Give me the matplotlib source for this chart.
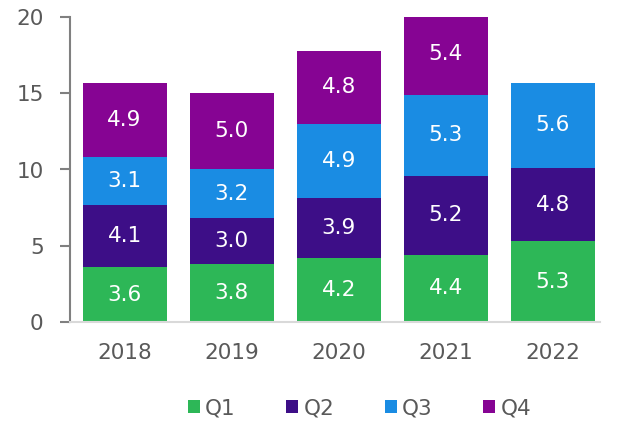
import matplotlib
matplotlib.use("Agg")
import matplotlib.pyplot as plt
import numpy as np

years = ["2018", "2019", "2020", "2021", "2022"]
series = ["Q1", "Q2", "Q3", "Q4"]
q1 = [3.6, 3.8, 4.2, 4.4, 5.3]
q2 = [4.1, 3.0, 3.9, 5.2, 4.8]
q3 = [3.1, 3.2, 4.9, 5.3, 5.6]
q4 = [4.9, 5.0, 4.8, 5.4, np.nan]
colors = ["#2DB757", "#3D0E87", "#1A8CE3", "#860493"]

plt.rcParams['font.family'] = ['DejaVu Sans']
fig = plt.figure(figsize=(6.18, 4.36), dpi=100)
ax = fig.add_axes([70/618, 1-322/436, 530/618, 305/436])

x = np.arange(len(years))
bottom = np.zeros(len(years))
handles = []
for name, vals, c in zip(series, [q1, q2, q3, q4], colors):
    v = np.array(vals, dtype=float)
    vv = np.nan_to_num(v)
    h = ax.bar(x, vv, 0.785, bottom=bottom, color=c, label=name)
    for xi, b, val in zip(x, bottom, v):
        if not np.isnan(val):
            ax.text(xi, b + val/2, f"{val:.1f}", ha="center", va="center",
                    color="white", fontsize=15.5)
    bottom += vv
    handles.append(h)

ax.set_xlim(-0.51, 4.44)
ax.set_ylim(0, 20)
ax.set_yticks([0, 5, 10, 15, 20])
ax.set_xticks(x)
ax.set_xticklabels(years)
for s in ["top", "right"]:
    ax.spines[s].set_visible(False)
ax.spines["left"].set_color("#808080")
ax.spines["left"].set_linewidth(1.5)
ax.spines["bottom"].set_color("#D9D9D9")
ax.spines["bottom"].set_linewidth(1.5)
ax.tick_params(axis="y", colors="#808080", labelcolor="#595959", labelsize=15.5,
               length=7, width=1.5, pad=12)
ax.tick_params(axis="x", length=0, labelcolor="#595959", labelsize=15.5, pad=15)

fig.legend(handles=handles, labels=series, loc="center", bbox_to_anchor=(0.582, 1-408/436),
           ncol=4, frameon=False, fontsize=15.5, handlelength=0.55, handleheight=0.55,
           columnspacing=2.35, handletextpad=0.25, labelcolor="#595959")

fig.savefig("out.png", dpi=100)
